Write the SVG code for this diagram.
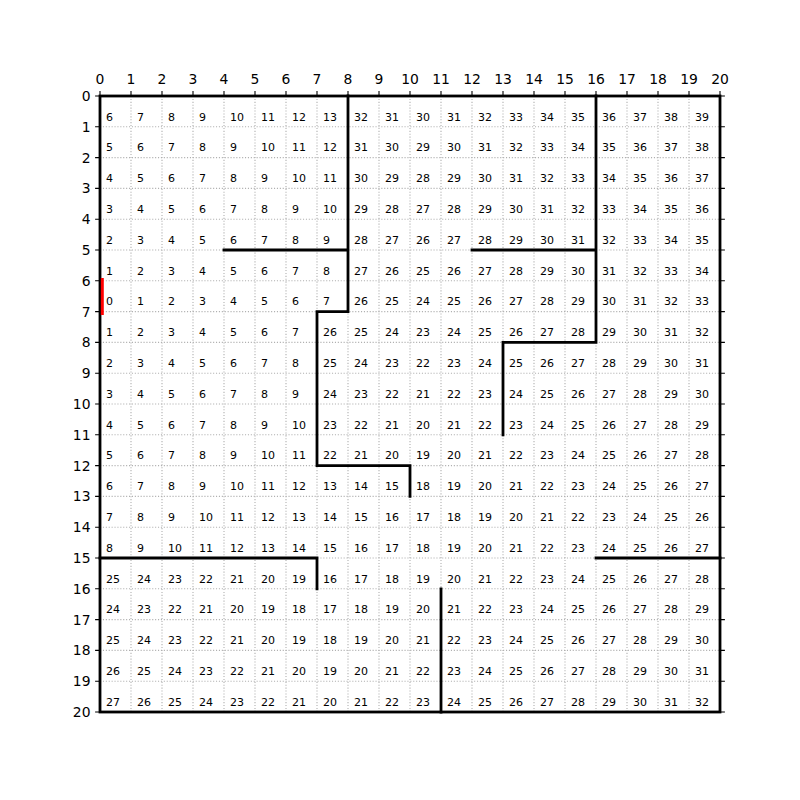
<svg xmlns="http://www.w3.org/2000/svg" width="800" height="800" viewBox="0 0 800 800">
<style>
.c{font-family:"DejaVu Sans",sans-serif;font-size:11px;fill:#000}
.t{font-family:"DejaVu Sans",sans-serif;font-size:13.9px;fill:#000}
.tt{text-anchor:middle}
.tl{text-anchor:end}
.grid{fill:none;stroke:#b0b0b0;stroke-width:1.1;stroke-dasharray:1.1 1.8}
.tick{fill:none;stroke:#000;stroke-width:1.1}
.wall{fill:none;stroke:#000;stroke-width:2.8;stroke-linecap:square}
</style>
<rect width="800" height="800" fill="#fff"/>
<g id="grid">
<path class="grid" d="M131 96V712M162 96V712M193 96V712M224 96V712M255 96V712M286 96V712M317 96V712M348 96V712M379 96V712M410 96V712M441 96V712M472 96V712M503 96V712M534 96V712M565 96V712M596 96V712M627 96V712M658 96V712M689 96V712"/>
<path class="grid" d="M100 126.8H720M100 157.6H720M100 188.4H720M100 219.2H720M100 250H720M100 280.8H720M100 311.6H720M100 342.4H720M100 373.2H720M100 404H720M100 434.8H720M100 465.6H720M100 496.4H720M100 527.2H720M100 558H720M100 588.8H720M100 619.6H720M100 650.4H720M100 681.2H720"/>
</g>
<g id="ticks">
<path class="tick" d="M100 96v-4.9M131 96v-4.9M162 96v-4.9M193 96v-4.9M224 96v-4.9M255 96v-4.9M286 96v-4.9M317 96v-4.9M348 96v-4.9M379 96v-4.9M410 96v-4.9M441 96v-4.9M472 96v-4.9M503 96v-4.9M534 96v-4.9M565 96v-4.9M596 96v-4.9M627 96v-4.9M658 96v-4.9M689 96v-4.9M720 96v-4.9"/>
<path class="tick" d="M100 96h-4.9M100 126.8h-4.9M100 157.6h-4.9M100 188.4h-4.9M100 219.2h-4.9M100 250h-4.9M100 280.8h-4.9M100 311.6h-4.9M100 342.4h-4.9M100 373.2h-4.9M100 404h-4.9M100 434.8h-4.9M100 465.6h-4.9M100 496.4h-4.9M100 527.2h-4.9M100 558h-4.9M100 588.8h-4.9M100 619.6h-4.9M100 650.4h-4.9M100 681.2h-4.9M100 712h-4.9"/>
<path class="tick" d="M720 96h4.9M720 126.8h4.9M720 157.6h4.9M720 188.4h4.9M720 219.2h4.9M720 250h4.9M720 280.8h4.9M720 311.6h4.9M720 342.4h4.9M720 373.2h4.9M720 404h4.9M720 434.8h4.9M720 465.6h4.9M720 496.4h4.9M720 527.2h4.9M720 558h4.9M720 588.8h4.9M720 619.6h4.9M720 650.4h4.9M720 681.2h4.9M720 712h4.9"/>
</g>
<g id="xlabels" class="t tt">
<text x="100" y="83.5">0</text><text x="131" y="83.5">1</text><text x="162" y="83.5">2</text><text x="193" y="83.5">3</text><text x="224" y="83.5">4</text><text x="255" y="83.5">5</text><text x="286" y="83.5">6</text><text x="317" y="83.5">7</text><text x="348" y="83.5">8</text><text x="379" y="83.5">9</text><text x="410" y="83.5">10</text><text x="441" y="83.5">11</text><text x="472" y="83.5">12</text><text x="503" y="83.5">13</text><text x="534" y="83.5">14</text><text x="565" y="83.5">15</text><text x="596" y="83.5">16</text><text x="627" y="83.5">17</text><text x="658" y="83.5">18</text><text x="689" y="83.5">19</text><text x="720" y="83.5">20</text>
</g>
<g id="ylabels" class="t tl">
<text x="90.5" y="101">0</text><text x="90.5" y="131.8">1</text><text x="90.5" y="162.6">2</text><text x="90.5" y="193.4">3</text><text x="90.5" y="224.2">4</text><text x="90.5" y="255">5</text><text x="90.5" y="285.8">6</text><text x="90.5" y="316.6">7</text><text x="90.5" y="347.4">8</text><text x="90.5" y="378.2">9</text><text x="90.5" y="409">10</text><text x="90.5" y="439.8">11</text><text x="90.5" y="470.6">12</text><text x="90.5" y="501.4">13</text><text x="90.5" y="532.2">14</text><text x="90.5" y="563">15</text><text x="90.5" y="593.8">16</text><text x="90.5" y="624.6">17</text><text x="90.5" y="655.4">18</text><text x="90.5" y="686.2">19</text><text x="90.5" y="717">20</text>
</g>
<g id="cells" class="c">
<g id="row0" transform="translate(0,120.6)"><text x="106">6</text><text x="137">7</text><text x="168">8</text><text x="199">9</text><text x="230">10</text><text x="261">11</text><text x="292">12</text><text x="323">13</text><text x="354">32</text><text x="385">31</text><text x="416">30</text><text x="447">31</text><text x="478">32</text><text x="509">33</text><text x="540">34</text><text x="571">35</text><text x="602">36</text><text x="633">37</text><text x="664">38</text><text x="695">39</text></g>
<g id="row1" transform="translate(0,151.4)"><text x="106">5</text><text x="137">6</text><text x="168">7</text><text x="199">8</text><text x="230">9</text><text x="261">10</text><text x="292">11</text><text x="323">12</text><text x="354">31</text><text x="385">30</text><text x="416">29</text><text x="447">30</text><text x="478">31</text><text x="509">32</text><text x="540">33</text><text x="571">34</text><text x="602">35</text><text x="633">36</text><text x="664">37</text><text x="695">38</text></g>
<g id="row2" transform="translate(0,182.2)"><text x="106">4</text><text x="137">5</text><text x="168">6</text><text x="199">7</text><text x="230">8</text><text x="261">9</text><text x="292">10</text><text x="323">11</text><text x="354">30</text><text x="385">29</text><text x="416">28</text><text x="447">29</text><text x="478">30</text><text x="509">31</text><text x="540">32</text><text x="571">33</text><text x="602">34</text><text x="633">35</text><text x="664">36</text><text x="695">37</text></g>
<g id="row3" transform="translate(0,213)"><text x="106">3</text><text x="137">4</text><text x="168">5</text><text x="199">6</text><text x="230">7</text><text x="261">8</text><text x="292">9</text><text x="323">10</text><text x="354">29</text><text x="385">28</text><text x="416">27</text><text x="447">28</text><text x="478">29</text><text x="509">30</text><text x="540">31</text><text x="571">32</text><text x="602">33</text><text x="633">34</text><text x="664">35</text><text x="695">36</text></g>
<g id="row4" transform="translate(0,243.8)"><text x="106">2</text><text x="137">3</text><text x="168">4</text><text x="199">5</text><text x="230">6</text><text x="261">7</text><text x="292">8</text><text x="323">9</text><text x="354">28</text><text x="385">27</text><text x="416">26</text><text x="447">27</text><text x="478">28</text><text x="509">29</text><text x="540">30</text><text x="571">31</text><text x="602">32</text><text x="633">33</text><text x="664">34</text><text x="695">35</text></g>
<g id="row5" transform="translate(0,274.6)"><text x="106">1</text><text x="137">2</text><text x="168">3</text><text x="199">4</text><text x="230">5</text><text x="261">6</text><text x="292">7</text><text x="323">8</text><text x="354">27</text><text x="385">26</text><text x="416">25</text><text x="447">26</text><text x="478">27</text><text x="509">28</text><text x="540">29</text><text x="571">30</text><text x="602">31</text><text x="633">32</text><text x="664">33</text><text x="695">34</text></g>
<g id="row6" transform="translate(0,305.4)"><text x="106">0</text><text x="137">1</text><text x="168">2</text><text x="199">3</text><text x="230">4</text><text x="261">5</text><text x="292">6</text><text x="323">7</text><text x="354">26</text><text x="385">25</text><text x="416">24</text><text x="447">25</text><text x="478">26</text><text x="509">27</text><text x="540">28</text><text x="571">29</text><text x="602">30</text><text x="633">31</text><text x="664">32</text><text x="695">33</text></g>
<g id="row7" transform="translate(0,336.2)"><text x="106">1</text><text x="137">2</text><text x="168">3</text><text x="199">4</text><text x="230">5</text><text x="261">6</text><text x="292">7</text><text x="323">26</text><text x="354">25</text><text x="385">24</text><text x="416">23</text><text x="447">24</text><text x="478">25</text><text x="509">26</text><text x="540">27</text><text x="571">28</text><text x="602">29</text><text x="633">30</text><text x="664">31</text><text x="695">32</text></g>
<g id="row8" transform="translate(0,367)"><text x="106">2</text><text x="137">3</text><text x="168">4</text><text x="199">5</text><text x="230">6</text><text x="261">7</text><text x="292">8</text><text x="323">25</text><text x="354">24</text><text x="385">23</text><text x="416">22</text><text x="447">23</text><text x="478">24</text><text x="509">25</text><text x="540">26</text><text x="571">27</text><text x="602">28</text><text x="633">29</text><text x="664">30</text><text x="695">31</text></g>
<g id="row9" transform="translate(0,397.8)"><text x="106">3</text><text x="137">4</text><text x="168">5</text><text x="199">6</text><text x="230">7</text><text x="261">8</text><text x="292">9</text><text x="323">24</text><text x="354">23</text><text x="385">22</text><text x="416">21</text><text x="447">22</text><text x="478">23</text><text x="509">24</text><text x="540">25</text><text x="571">26</text><text x="602">27</text><text x="633">28</text><text x="664">29</text><text x="695">30</text></g>
<g id="row10" transform="translate(0,428.6)"><text x="106">4</text><text x="137">5</text><text x="168">6</text><text x="199">7</text><text x="230">8</text><text x="261">9</text><text x="292">10</text><text x="323">23</text><text x="354">22</text><text x="385">21</text><text x="416">20</text><text x="447">21</text><text x="478">22</text><text x="509">23</text><text x="540">24</text><text x="571">25</text><text x="602">26</text><text x="633">27</text><text x="664">28</text><text x="695">29</text></g>
<g id="row11" transform="translate(0,459.4)"><text x="106">5</text><text x="137">6</text><text x="168">7</text><text x="199">8</text><text x="230">9</text><text x="261">10</text><text x="292">11</text><text x="323">22</text><text x="354">21</text><text x="385">20</text><text x="416">19</text><text x="447">20</text><text x="478">21</text><text x="509">22</text><text x="540">23</text><text x="571">24</text><text x="602">25</text><text x="633">26</text><text x="664">27</text><text x="695">28</text></g>
<g id="row12" transform="translate(0,490.2)"><text x="106">6</text><text x="137">7</text><text x="168">8</text><text x="199">9</text><text x="230">10</text><text x="261">11</text><text x="292">12</text><text x="323">13</text><text x="354">14</text><text x="385">15</text><text x="416">18</text><text x="447">19</text><text x="478">20</text><text x="509">21</text><text x="540">22</text><text x="571">23</text><text x="602">24</text><text x="633">25</text><text x="664">26</text><text x="695">27</text></g>
<g id="row13" transform="translate(0,521)"><text x="106">7</text><text x="137">8</text><text x="168">9</text><text x="199">10</text><text x="230">11</text><text x="261">12</text><text x="292">13</text><text x="323">14</text><text x="354">15</text><text x="385">16</text><text x="416">17</text><text x="447">18</text><text x="478">19</text><text x="509">20</text><text x="540">21</text><text x="571">22</text><text x="602">23</text><text x="633">24</text><text x="664">25</text><text x="695">26</text></g>
<g id="row14" transform="translate(0,551.8)"><text x="106">8</text><text x="137">9</text><text x="168">10</text><text x="199">11</text><text x="230">12</text><text x="261">13</text><text x="292">14</text><text x="323">15</text><text x="354">16</text><text x="385">17</text><text x="416">18</text><text x="447">19</text><text x="478">20</text><text x="509">21</text><text x="540">22</text><text x="571">23</text><text x="602">24</text><text x="633">25</text><text x="664">26</text><text x="695">27</text></g>
<g id="row15" transform="translate(0,582.6)"><text x="106">25</text><text x="137">24</text><text x="168">23</text><text x="199">22</text><text x="230">21</text><text x="261">20</text><text x="292">19</text><text x="323">16</text><text x="354">17</text><text x="385">18</text><text x="416">19</text><text x="447">20</text><text x="478">21</text><text x="509">22</text><text x="540">23</text><text x="571">24</text><text x="602">25</text><text x="633">26</text><text x="664">27</text><text x="695">28</text></g>
<g id="row16" transform="translate(0,613.4)"><text x="106">24</text><text x="137">23</text><text x="168">22</text><text x="199">21</text><text x="230">20</text><text x="261">19</text><text x="292">18</text><text x="323">17</text><text x="354">18</text><text x="385">19</text><text x="416">20</text><text x="447">21</text><text x="478">22</text><text x="509">23</text><text x="540">24</text><text x="571">25</text><text x="602">26</text><text x="633">27</text><text x="664">28</text><text x="695">29</text></g>
<g id="row17" transform="translate(0,644.2)"><text x="106">25</text><text x="137">24</text><text x="168">23</text><text x="199">22</text><text x="230">21</text><text x="261">20</text><text x="292">19</text><text x="323">18</text><text x="354">19</text><text x="385">20</text><text x="416">21</text><text x="447">22</text><text x="478">23</text><text x="509">24</text><text x="540">25</text><text x="571">26</text><text x="602">27</text><text x="633">28</text><text x="664">29</text><text x="695">30</text></g>
<g id="row18" transform="translate(0,675)"><text x="106">26</text><text x="137">25</text><text x="168">24</text><text x="199">23</text><text x="230">22</text><text x="261">21</text><text x="292">20</text><text x="323">19</text><text x="354">20</text><text x="385">21</text><text x="416">22</text><text x="447">23</text><text x="478">24</text><text x="509">25</text><text x="540">26</text><text x="571">27</text><text x="602">28</text><text x="633">29</text><text x="664">30</text><text x="695">31</text></g>
<g id="row19" transform="translate(0,705.8)"><text x="106">27</text><text x="137">26</text><text x="168">25</text><text x="199">24</text><text x="230">23</text><text x="261">22</text><text x="292">21</text><text x="323">20</text><text x="354">21</text><text x="385">22</text><text x="416">23</text><text x="447">24</text><text x="478">25</text><text x="509">26</text><text x="540">27</text><text x="571">28</text><text x="602">29</text><text x="633">30</text><text x="664">31</text><text x="695">32</text></g>
</g>
<g id="walls">
<rect class="wall" x="100" y="96" width="620" height="616"/>
<path class="wall" d="M348 96V311.6M224 250H348M596 96V342.4M472 250H596M317 311.6H348M317 311.6V465.6M503 342.4H596M503 342.4V434.8M317 465.6H410M410 465.6V496.4M100 558H317M317 558V588.8M596 558H720M441 588.8V712"/>
</g>
<g id="start">
<path d="M102.3 278V315" fill="none" stroke="#ff0000" stroke-width="3"/>
</g>
</svg>
